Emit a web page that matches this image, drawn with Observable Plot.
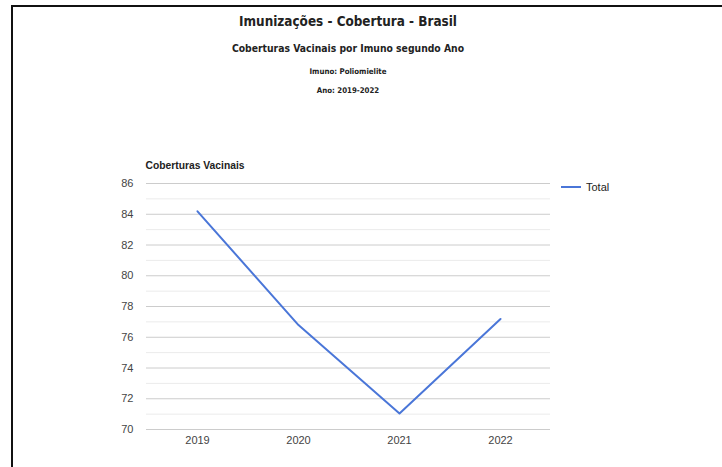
<!DOCTYPE html>
<html>
<head>
<meta charset="utf-8">
<script src="https://cdn.jsdelivr.net/npm/d3@7"></script>
<script src="https://cdn.jsdelivr.net/npm/@observablehq/plot@0.6"></script>
<style>
  html, body { margin: 0; padding: 0; background: #fff; }
  #page { position: relative; width: 722px; height: 467px; overflow: hidden; background: #fff; }
  #frame { position: absolute; left: 11px; top: 5px; width: 720px; height: 470px;
           border-top: 2px solid #111; border-left: 2px solid #111; box-sizing: border-box; }
  .t { position: absolute; left: 0; width: 696px; text-align: center; color: #222;
       font-family: "DejaVu Sans Condensed", "DejaVu Sans", sans-serif; font-weight: bold; white-space: nowrap; }
  #title { top: 12px; line-height: 20px; font-size: 13.4px; }
  #sub { top: 40px; line-height: 16px; font-size: 10.3px; }
  #imuno { top: 64px; line-height: 16px; font-size: 7.8px; }
  #ano { top: 83px; line-height: 16px; font-size: 7.8px; }
  #chart { position: absolute; left: 0; top: 150px; }
  #legend { position: absolute; left: 561px; top: 179px; font-family: "Liberation Sans", Arial, sans-serif;
            font-size: 11px; color: #222; display: flex; align-items: center; line-height: 16px; }
  #legend .sw { width: 20px; height: 2px; background: #4a76d8; margin-right: 5px; }
</style>
</head>
<body>
<div id="page">
  <div id="frame"></div>
  <div class="t" id="title">Imunizações - Cobertura - Brasil</div>
  <div class="t" id="sub">Coberturas Vacinais por Imuno segundo Ano</div>
  <div class="t" id="imuno">Imuno: Poliomielite</div>
  <div class="t" id="ano">Ano: 2019-2022</div>
  <div id="chart"></div>
  <div id="legend"><div class="sw"></div><span>Total</span></div>
</div>
<script>
const years = ["2019", "2020", "2021", "2022"];
const coverage = [84.19, 76.79, 71.04, 77.19];
const majorTicks = [70, 72, 74, 76, 78, 80, 82, 84, 86];
const minorTicks = [71, 73, 75, 77, 79, 81, 83, 85];
const axisTitle = "Coberturas Vacinais";
const seriesName = "Total";

const data = years.map((y, i) => ({year: y, value: coverage[i], series: seriesName}));

const chart = Plot.plot({
  width: 722,
  height: 317,
  marginLeft: 146,
  marginRight: 172,
  marginTop: 33,
  marginBottom: 38,
  style: {fontFamily: "'Liberation Sans', Arial, sans-serif", fontSize: "11px", color: "#444", background: "transparent"},
  x: {type: "point", domain: years, padding: 0.5, label: null},
  y: {domain: [70, 86], label: null},
  marks: [
    Plot.ruleY(minorTicks, {stroke: "#ebebeb", strokeWidth: 1}),
    Plot.ruleY(majorTicks, {stroke: "#cccccc", strokeWidth: 1}),
    Plot.axisY({ticks: majorTicks, tickSize: 0, tickPadding: 13, label: null, fill: "#444"}),
    Plot.axisX({tickSize: 0, tickPadding: 7, label: null, fill: "#444"}),
    Plot.line(data, {x: "year", y: "value", stroke: "#4a76d8", strokeWidth: 2}),
    Plot.text([axisTitle], {frameAnchor: "top-left", dy: -22, dx: -1, text: d => d, fontWeight: "bold", fontSize: 10.3, fill: "#222", textAnchor: "start"})
  ]
});
document.getElementById("chart").appendChild(chart);
</script>
</body>
</html>
